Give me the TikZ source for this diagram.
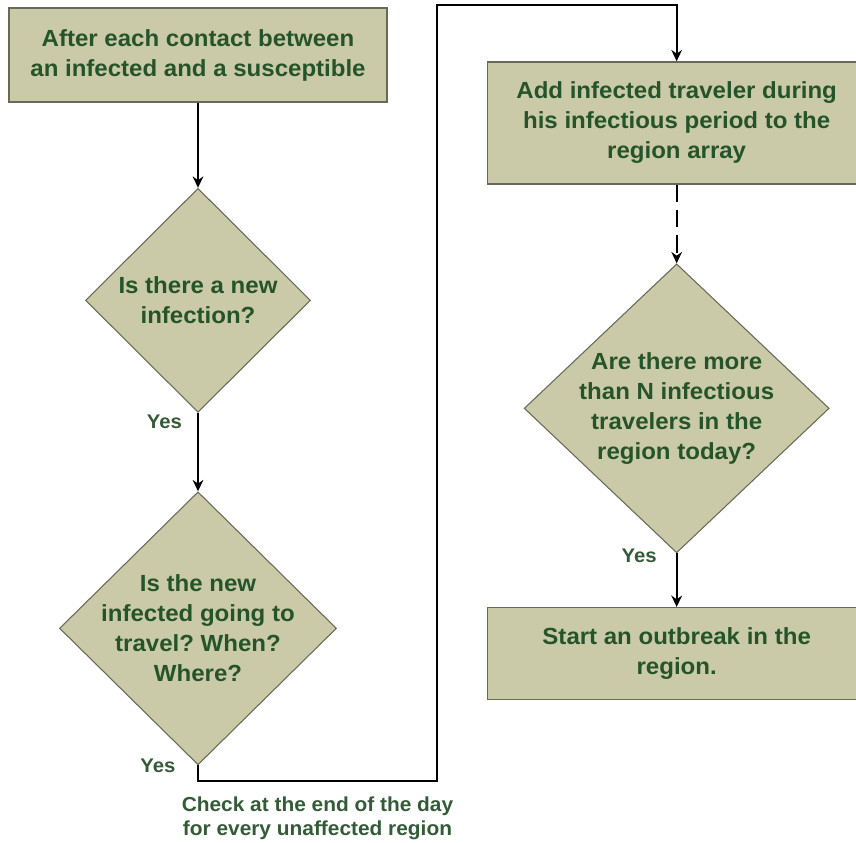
\documentclass[tikz,border=0pt]{standalone}
\usepackage{fontspec}
\setmainfont[FakeStretch=1.03]{Liberation Sans}
\usetikzlibrary{shapes.geometric, arrows.meta, positioning}
\definecolor{khaki}{RGB}{202,202,168}
\definecolor{khakiline}{RGB}{105,105,88}
\definecolor{textgreen}{RGB}{38,84,42}
\frenchspacing
\tikzset{
  process/.style={rectangle, draw=khakiline, line width=1.1pt, fill=khaki, minimum width=283.5pt, align=center, text=textgreen, font=\fontsize{17.5}{22.5}\selectfont\bfseries},
  decision/.style={diamond, draw=khakiline, line width=0.8pt, fill=khaki, inner sep=-14pt, align=center, text=textgreen, font=\fontsize{17.5}{22.5}\selectfont\bfseries},
  arrow/.style={-{Stealth[length=8.5pt,width=8pt]}, line width=1.3pt},
  yes/.style={text=textgreen!85!gray, font=\fontsize{14.8}{17}\selectfont\bfseries},
  note/.style={align=center, text=textgreen!85!gray, font=\fontsize{15.2}{18}\selectfont\bfseries}
}

\begin{document}
\begin{tikzpicture}[node distance=184pt]
  \useasboundingbox (0,0) rectangle (642pt,-631.5pt);
  % Left column
  \node[process, minimum height=70.5pt] (after) at (148.5pt,-41.25pt) {After each contact between\\an infected and a susceptible};
  \node[decision, minimum width=168.75pt, minimum height=168pt, below of=after] (newinf) {Is there a new\\infection?};
  \node[decision, minimum width=207.75pt, minimum height=204.75pt, below of=newinf, yshift=-62pt] (travel) {Is the new\\infected going to\\travel? When?\\Where?};

  % Right column
  \node[process, minimum height=91.5pt, right of=after, xshift=175pt, yshift=-51pt] (addtrav) {Add infected traveler during\\his infectious period to the\\region array};
  \node[decision, minimum width=228.75pt, minimum height=216.75pt, below of=addtrav, yshift=-30pt] (more) {Are there more\\than N infectious\\travelers in the\\region today?};
  \node[process, minimum height=69pt, below of=more] (outbreak) {Start an outbreak in the\\region.};

  % Connectors
  \coordinate (low) at (327.75pt,-585.75pt);
  \coordinate (high) at (327.75pt,-3.75pt);
  \draw[arrow] (after) -- (newinf);
  \draw[arrow] (newinf) -- node[yes, pos=.12, left=8pt] {Yes} (travel);
  \draw[arrow] (travel.south) |- node[yes, pos=0, left=13pt] {Yes} node[note, pos=.75, below=8pt] {Check at the end of the day\\for every unaffected region} (low) -- (high) -| (addtrav);
  \draw[arrow, dashed, dash pattern=on 13pt off 6pt] (addtrav) -- (more);
  \draw[arrow] (more) -- node[yes, pos=.05, left=11pt] {Yes} (outbreak);
\end{tikzpicture}
\end{document}
